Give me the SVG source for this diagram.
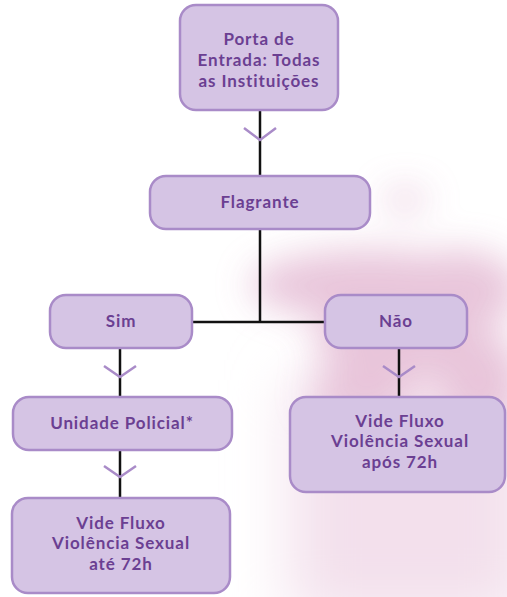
<svg xmlns="http://www.w3.org/2000/svg" width="507" height="597" viewBox="0 0 507 597">
<defs>
<filter id="blur" x="-50%" y="-50%" width="200%" height="200%"><feGaussianBlur stdDeviation="18"/></filter>
<filter id="blur2" x="-50%" y="-50%" width="200%" height="200%"><feGaussianBlur stdDeviation="30"/></filter>
<style>
.box{fill:#d5c4e4;stroke:#a98bc8;stroke-width:2.5}
.t{font-family:Lato,"Open Sans","Liberation Sans",sans-serif;font-weight:700;font-size:17px;letter-spacing:0.9px;fill:#6b3f92;text-anchor:middle}
.ln{stroke:#111;stroke-width:2.5;fill:none}
.chev{stroke:#a98bc8;stroke-width:2.5;fill:none}
</style>
</defs>
<rect width="507" height="597" fill="#fff"/>
<g id="cloud">
<g filter="url(#blur2)" fill="#f3e0ec">
<rect x="290" y="380" width="240" height="240"/>
</g>
<g filter="url(#blur)" fill="#e6c0d7" opacity="0.9">
<ellipse cx="370" cy="285" rx="120" ry="35"/>
<ellipse cx="460" cy="290" rx="60" ry="40"/>
<ellipse cx="400" cy="340" rx="85" ry="45"/>
<ellipse cx="480" cy="380" rx="40" ry="50"/>
<ellipse cx="360" cy="395" rx="50" ry="25"/>
<ellipse cx="405" cy="200" rx="22" ry="10"/>
</g>
</g>
<g id="connectors">
<path class="ln" d="M260 110V176"/>
<path class="chev" d="M244 128L260 140L276 128"/>
<path class="ln" d="M260 229V322M192 322H325"/>
<path class="ln" d="M120 348V397"/>
<path class="chev" d="M104 366L120 377L136 366"/>
<path class="ln" d="M399 348V397"/>
<path class="chev" d="M383 366L399 377L415 366"/>
<path class="ln" d="M120 450V498"/>
<path class="chev" d="M104 466L120 477L136 466"/>
</g>
<g id="porta"><rect class="box" x="180" y="5" width="158" height="105" rx="16"/>
<text class="t" x="259" y="45">Porta de</text><text class="t" x="259" y="66">Entrada: Todas</text><text class="t" x="259" y="87">as Instituições</text></g>
<g id="flagrante"><rect class="box" x="150" y="176" width="220" height="53" rx="16"/>
<text class="t" x="260" y="208">Flagrante</text></g>
<g id="sim"><rect class="box" x="50" y="295" width="142" height="53" rx="16"/>
<text class="t" x="121" y="327">Sim</text></g>
<g id="nao"><rect class="box" x="325" y="295" width="142" height="53" rx="16"/>
<text class="t" x="396" y="327">Não</text></g>
<g id="unidade"><rect class="box" x="13" y="397" width="219" height="53" rx="16"/>
<text class="t" x="122" y="429">Unidade Policial*</text></g>
<g id="apos"><rect class="box" x="290" y="397" width="215" height="95" rx="16"/>
<text class="t" x="400" y="426.5">Vide Fluxo</text><text class="t" x="400" y="447">Violência Sexual</text><text class="t" x="400" y="467.5">após 72h</text></g>
<g id="ate"><rect class="box" x="12" y="498" width="218" height="95" rx="16"/>
<text class="t" x="121" y="528.5">Vide Fluxo</text><text class="t" x="121" y="549">Violência Sexual</text><text class="t" x="121" y="569.5">até 72h</text></g>
</svg>
